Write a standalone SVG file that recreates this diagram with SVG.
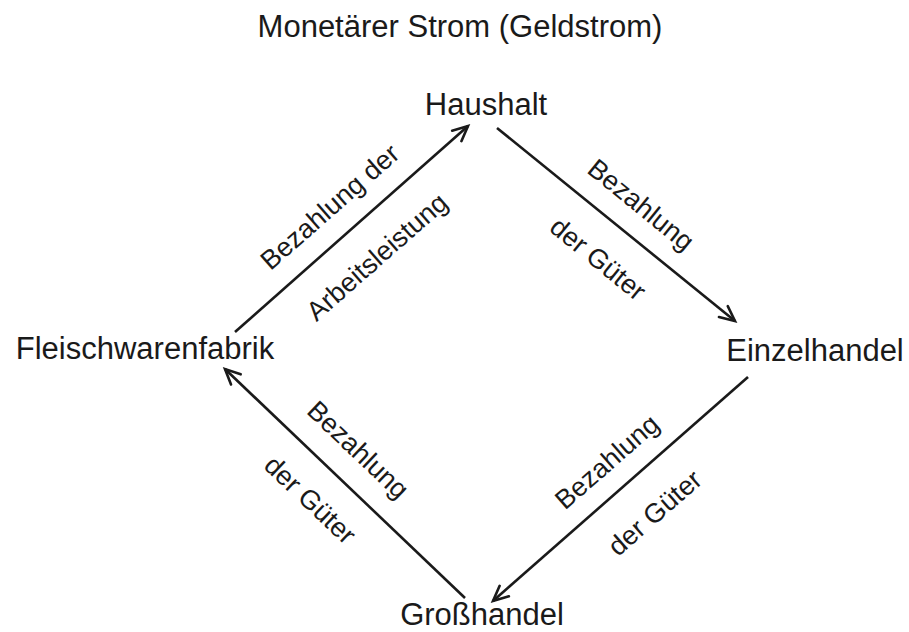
<svg xmlns="http://www.w3.org/2000/svg" width="909" height="632" viewBox="0 0 909 632">
<defs>
<marker id="arr" markerUnits="userSpaceOnUse" markerWidth="30" markerHeight="30" viewBox="-20 -15 30 30" refX="0" refY="0" orient="auto">
<path d="M-15,-7 L0,0 L-15,7" fill="none" stroke="#1a1a1a" stroke-width="2.6" stroke-linecap="round" stroke-linejoin="miter"/>
</marker>
<style>
.t{font-family:"Liberation Sans",Arial,Helvetica,sans-serif;fill:#1a1a1a}
.title{font-size:31px;text-anchor:middle}
.node{font-size:31px;text-anchor:middle}
.lbl{font-size:27px;text-anchor:middle}
.c{stroke:#1a1a1a;stroke-width:2.6;fill:none;marker-end:url(#arr)}
</style>
</defs>
<rect width="909" height="632" fill="#ffffff"/>
<text class="t title" x="460" y="37">Monetärer Strom (Geldstrom)</text>
<g id="haushalt"><text class="t node" x="486" y="115">Haushalt</text></g>
<g id="einzelhandel"><text class="t node" x="815" y="361">Einzelhandel</text></g>
<g id="grosshandel"><text class="t node" x="482" y="625">Großhandel</text></g>
<g id="fleischwarenfabrik"><text class="t node" x="145" y="359">Fleischwarenfabrik</text></g>
<g id="connectors">
<line class="c" x1="235" y1="332" x2="468" y2="126"/>
<line class="c" x1="497" y1="128" x2="735" y2="321"/>
<line class="c" x1="748" y1="377" x2="493" y2="601"/>
<line class="c" x1="465" y1="598" x2="225" y2="369"/>
<g transform="translate(330,207) rotate(-41.3)"><text class="t lbl" x="0" y="9">Bezahlung der</text></g>
<g transform="translate(377,257) rotate(-41.3)"><text class="t lbl" x="0" y="9">Arbeitsleistung</text></g>
<g transform="translate(641,205) rotate(39.2)"><text class="t lbl" x="0" y="9">Bezahlung</text></g>
<g transform="translate(598,259) rotate(39.2)"><text class="t lbl" x="0" y="9">der Güter</text></g>
<g transform="translate(607,462) rotate(-41.2)"><text class="t lbl" x="0" y="9">Bezahlung</text></g>
<g transform="translate(655,513) rotate(-41.2)"><text class="t lbl" x="0" y="9">der Güter</text></g>
<g transform="translate(358,450) rotate(43.5)"><text class="t lbl" x="0" y="9">Bezahlung</text></g>
<g transform="translate(310,500) rotate(43.5)"><text class="t lbl" x="0" y="9">der Güter</text></g>
</g>
</svg>
